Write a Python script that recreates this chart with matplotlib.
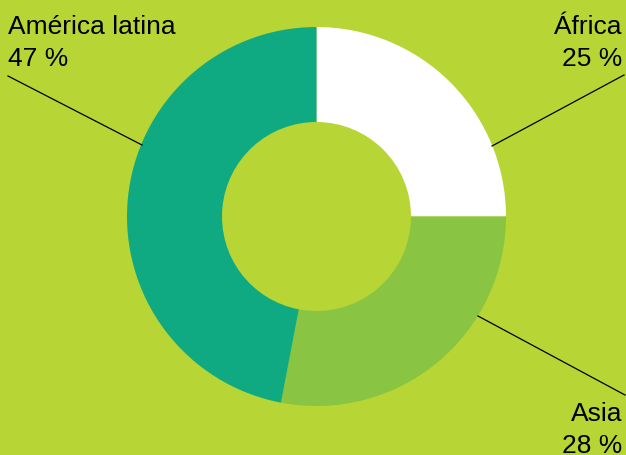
import matplotlib
matplotlib.use("Agg")
import matplotlib.pyplot as plt

# data (clockwise from 12 o'clock)
regions = ["África", "Asia", "América latina"]
shares = [25, 28, 47]
colors = ["#ffffff", "#89c442", "#10aa82"]
bg = "#b7d535"

W, H = 626, 455
fig = plt.figure(figsize=(W / 100, H / 100), dpi=100, facecolor=bg)
ax = fig.add_axes([0, 0, 1, 1])
ax.set_xlim(0, W)
ax.set_ylim(0, H)
ax.set_aspect("equal")
ax.axis("off")

ax.pie(shares, colors=colors, startangle=90, counterclock=False,
       center=(316.5, 238.5), radius=189.5,
       wedgeprops=dict(width=95, linewidth=0))
ax.set_xlim(0, W)
ax.set_ylim(0, H)

# leader lines
ax.plot([8, 142], [379, 310], color="black", lw=0.9)
ax.plot([492, 624], [309, 380], color="black", lw=0.9)
ax.plot([478, 625], [139, 60], color="black", lw=0.9)

fs = 19
font = "Liberation Sans"
labels = [f"{s} %" for s in shares]
ax.text(8, 421, regions[2], fontsize=fs, family=font, ha="left", va="baseline")
ax.text(8, 389, labels[2], fontsize=fs, family=font, ha="left", va="baseline")
ax.text(622, 421, regions[0], fontsize=fs, family=font, ha="right", va="baseline")
ax.text(622, 389, labels[0], fontsize=fs, family=font, ha="right", va="baseline")
ax.text(622, 34, regions[1], fontsize=fs, family=font, ha="right", va="baseline")
ax.text(622, 2, labels[1], fontsize=fs, family=font, ha="right", va="baseline")

fig.savefig("out.png", dpi=100, facecolor=bg)
